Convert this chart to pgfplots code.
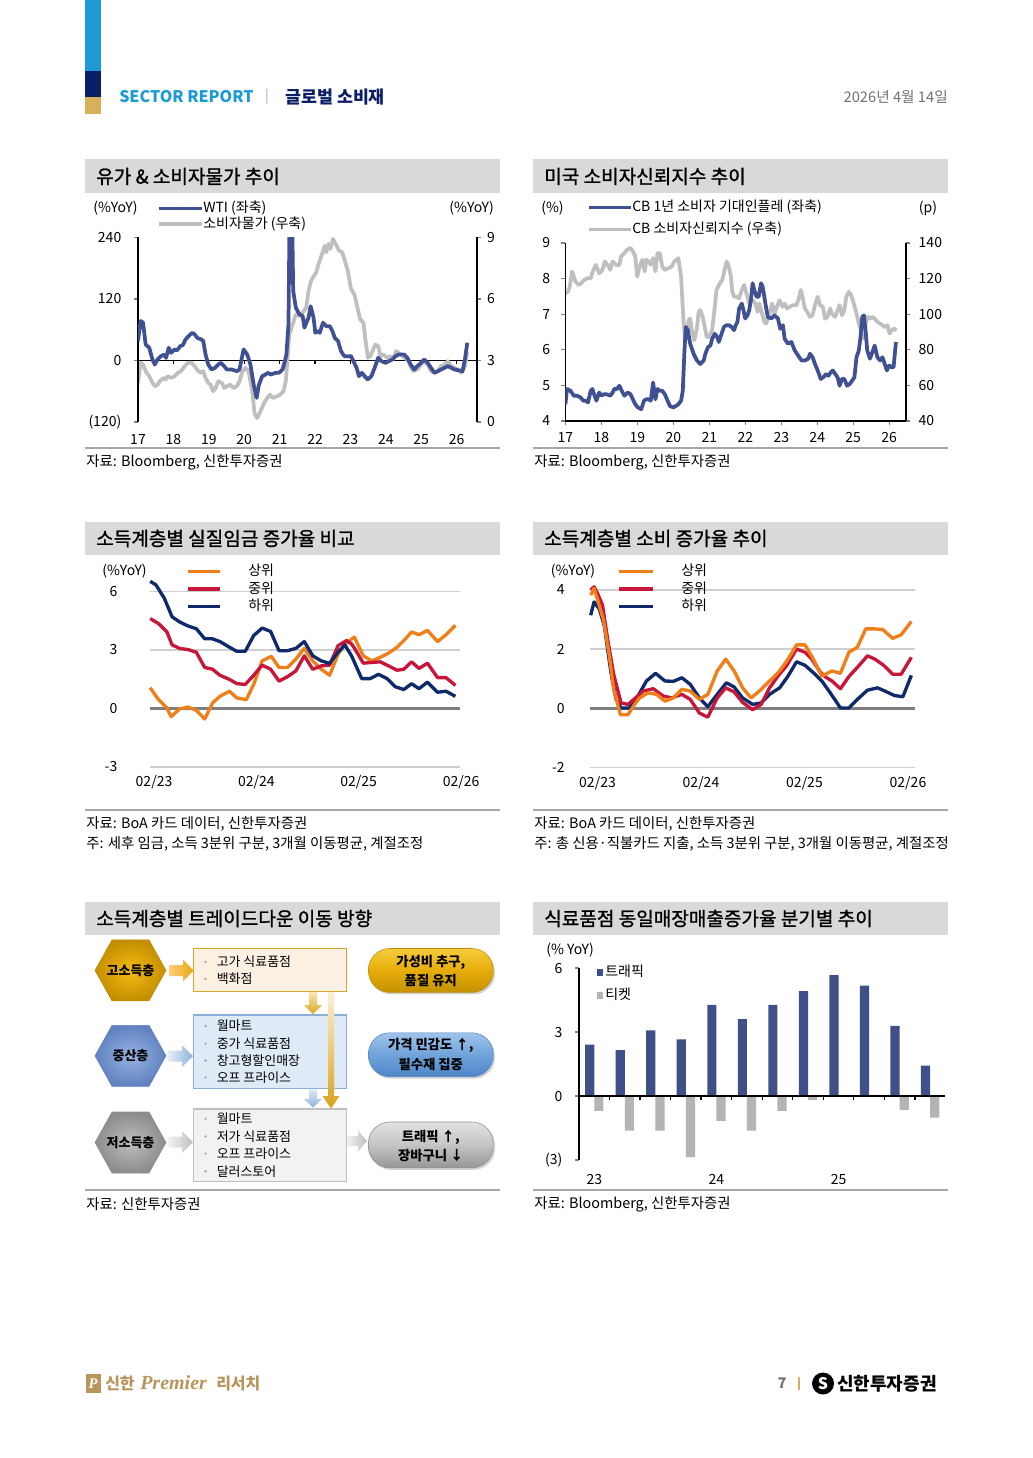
\documentclass[border=0pt]{standalone}
\usepackage{fontspec}
\setmainfont{Noto Sans CJK KR}
\newfontfamily\hdfont{Noto Sans CJK KR}[FakeBold=1.2]
\newfontfamily\premfont{Liberation Serif}
\usepackage{pgfplots}
\pgfplotsset{compat=1.18}
\usetikzlibrary{shadings}
\definecolor{hdrgray}{HTML}{D9D9D9}
\definecolor{lineg}{HTML}{A6A6A6}
\definecolor{wtiblue}{HTML}{3F5192}
\definecolor{cpigray}{HTML}{BFBFBF}
\definecolor{orng}{HTML}{F07F19}
\definecolor{redw}{HTML}{C8163A}
\definecolor{navyw}{HTML}{0F2A6B}
\definecolor{gridg}{HTML}{CFCFCF}
\definecolor{zerog}{HTML}{7F7F7F}
\definecolor{barnavy}{HTML}{3F4F87}
\definecolor{bargray}{HTML}{B4B4B4}
\definecolor{hblue}{HTML}{1C9AD6}
\definecolor{hnavy}{HTML}{0A1E66}
\definecolor{hgold}{HTML}{D6B05A}
\definecolor{ftgold}{HTML}{B8955A}
\newcommand\fs[1]{\fontsize{#1}{#1}\selectfont}
\pgfplotsset{every axis/.append style={scale only axis, anchor=south west,
  tick label style={font=\fs{10.5}}}}
\begin{document}
\begin{tikzpicture}[x=0.75pt,y=-0.75pt]
\path[use as bounding box, fill=white] (0,0) rectangle (1032,1458);
% ---------- header
\fill[hblue] (85,0) rectangle (101,71);
\fill[hnavy] (85,71) rectangle (101,97);
\fill[hgold] (85,97) rectangle (101,114);
\node[anchor=west,inner sep=0,text=hblue,font=\fs{12}\bfseries] at (119,97) {SECTOR REPORT};
\node[inner sep=0,text=lineg,font=\fs{10}] at (267,97) {|};
\node[anchor=west,inner sep=0,text=hnavy,font=\fs{13}\bfseries] at (285,97) {글로벌 소비재};
\node[anchor=east,inner sep=0,text=black!55,font=\fs{11}] at (948,97) {2026년 4월 14일};
% ---------- heading bands
\foreach \yy/\tl/\tr in {159.5/{유가 \& 소비자물가 추이}/{미국 소비자신뢰지수 추이},
  521.5/{소득계층별 실질임금 증가율 비교}/{소득계층별 소비 증가율 추이},
  901.5/{소득계층별 트레이드다운 이동 방향}/{식료품점 동일매장매출증가율 분기별 추이}}{
  \fill[hdrgray] (85,\yy) rectangle (500,\yy+33.3);
  \fill[hdrgray] (533,\yy) rectangle (948,\yy+33.3);
  \node[anchor=west,inner sep=0,font=\hdfont\fs{14.3}] at (96,\yy+17) {\tl};
  \node[anchor=west,inner sep=0,font=\hdfont\fs{14.3}] at (544,\yy+17) {\tr};
}
% bottom rules
\foreach \yy in {448,810,1190}{
  \draw[lineg,line width=0.9pt] (85,\yy) -- (500,\yy);
  \draw[lineg,line width=0.9pt] (533,\yy) -- (948,\yy);}
% sources
\begin{scope}[every node/.style={anchor=west,inner sep=0,font=\fs{10.8}}]
\node at (86,462) {자료: Bloomberg, 신한투자증권};
\node at (534,462) {자료: Bloomberg, 신한투자증권};
\node at (86,824) {자료: BoA 카드 데이터, 신한투자증권};
\node at (86,844) {주: 세후 임금, 소득 3분위 구분, 3개월 이동평균, 계절조정};
\node at (534,824) {자료: BoA 카드 데이터, 신한투자증권};
\node at (534,844) {주: 총 신용·직불카드 지출, 소득 3분위 구분, 3개월 이동평균, 계절조정};
\node at (86,1204) {자료: 신한투자증권};
\node at (534,1204) {자료: Bloomberg, 신한투자증권};
\end{scope}

% ================= Chart 1 : WTI & CPI
\begin{axis}[at={(103.5pt,-316.5pt)}, width=254.25pt, height=138.4pt,
  xmin=0, xmax=114.9, ymin=0, ymax=9,
  axis y line*=right, axis x line=none,
  ytick={0,3,6,9}, yticklabels={0,3,6,9},
  ytick align=outside, major tick length=3pt,
  y axis line style={line width=1pt}, ytick style={line width=1pt},
  yticklabel style={xshift=1pt}]
\draw[line width=1pt] (axis cs:0,3) -- (axis cs:114.9,3);
\pgfplotsinvokeforeach{12,24,36,48,60,72,84,96,108}{\draw[line width=1pt] (axis cs:#1,3) -- ++(0pt,-3pt);}
\addplot[cpigray, line width=2.8pt, line join=round, mark=none] coordinates {
(0,1.91)(0.9,2.89)(1.7,2.80)(2.6,2.48)(3.8,2.23)(4.6,1.99)(5.7,1.74)(6.6,1.82)(7.4,1.99)(8.6,2.15)(9.3,2.07)(10.1,2.23)(11.2,2.15)(12.4,2.23)(13.5,2.40)(14.6,2.48)(15.8,2.72)(16.9,2.89)(18.1,2.89)(19.2,2.72)(20.4,2.48)(21.5,2.40)(22.1,2.48)(22.9,2.15)(23.8,1.91)(24.6,1.82)(25.5,1.50)(26.3,1.66)(27.2,1.99)(28.4,1.91)(29.2,1.66)(30.1,1.74)(31.2,1.82)(32.4,1.66)(33.5,1.74)(34.4,1.99)(35.2,2.40)(36.4,2.64)(37.5,2.48)(38.7,1.50)(39.5,0.43)(40.4,0.19)(41.5,0.52)(42.7,0.92)(43.8,1.17)(44.7,1.33)(45.9,1.17)(47.0,1.25)(48.2,1.33)(49.3,1.50)(50.1,1.99)(50.7,3.13)(51.3,4.27)(52.4,4.76)(53.5,5.25)(54.7,5.17)(55.8,5.34)(57.0,5.58)(57.8,6.40)(58.5,6.81)(59.3,7.05)(60.4,7.30)(61.2,7.71)(62.4,8.20)(63.3,8.60)(63.8,8.28)(64.6,8.69)(65.2,8.44)(66.1,8.93)(67.3,8.60)(68.1,8.36)(69.2,8.28)(70.1,7.87)(71.1,7.38)(72.2,6.48)(73.3,6.24)(74.1,5.75)(75.3,5.01)(76.4,4.85)(77.0,4.11)(77.9,3.13)(78.7,3.21)(79.5,3.46)(80.4,3.78)(81.4,3.70)(82.2,3.21)(83.3,3.29)(84.4,3.13)(85.6,3.21)(86.4,3.05)(87.5,3.46)(89.0,3.29)(90.2,3.13)(91.3,3.05)(92.1,2.80)(93.2,2.48)(94.7,2.56)(95.9,2.80)(97.0,2.97)(98.2,2.80)(99.3,2.48)(100.5,2.40)(101.6,2.48)(102.7,2.72)(103.9,2.80)(105.0,2.97)(106.2,2.72)(107.3,2.64)(108.5,2.56)(109.6,2.40)(110.8,2.72)(111.6,3.38)};
\end{axis}
\begin{axis}[at={(103.5pt,-316.5pt)}, width=254.25pt, height=138.4pt,
  xmin=0, xmax=114.9, ymin=-120, ymax=240,
  axis y line*=left, axis x line*=bottom,
  x axis line style={draw=none}, xtick style={draw=none},
  xtick={0,12,...,108}, xticklabels={17,18,19,20,21,22,23,24,25,26},
  ytick={-120,0,120,240}, yticklabels={(120),0,120,240},
  ytick align=outside, major tick length=3pt,
  y axis line style={line width=1pt}, ytick style={line width=1pt},
  xticklabel style={yshift=-6pt}, yticklabel style={xshift=-6pt}]
\addplot[wtiblue, line width=2.8pt, line join=round, mark=none] coordinates {
(0,38)(0.9,77)(1.7,74)(2.6,31)(3.8,25)(4.9,2)(5.7,-8)(6.6,2)(7.8,8.5)(8.9,11.7)(9.5,5)(10.4,25)(11.2,15)(12.4,21.5)(13.2,19.6)(14.3,28)(15.2,30)(16.1,41)(17.5,49.6)(18.4,54)(19.2,51)(20.1,44)(21.5,41)(22.1,38)(22.9,11.7)(23.8,-7.8)(24.9,-17.6)(26.1,-14.4)(27.2,-7.8)(28.1,-4.6)(29.2,-11)(30.1,-17.6)(31.8,-17.6)(33.5,-20.9)(34.4,-17.6)(35.2,5.2)(35.8,21.5)(37,11.7)(38.1,-7.8)(39.2,-47)(40.2,-73)(41,-47)(42.1,-30.7)(43.2,-27.4)(44,-24)(45,-27.4)(46.7,-24)(47.8,-24)(49,-17.6)(49.8,-1.3)(50.3,11.7)(51,70)(51.4,300)(52.2,300)(52.6,135.7)(53.5,103)(54.7,90)(55.8,86.8)(56.4,64)(57.3,77)(57.8,83.5)(58.5,106)(59.5,83.5)(60.1,54)(61,57.4)(61.6,54)(62.7,73.7)(63.8,67)(65,67)(65.9,57.4)(66.7,44)(67.8,37.8)(68.8,18.3)(69.9,8.5)(71.3,8.5)(72.2,8.5)(73,-1.3)(74.1,-14.4)(74.9,-30.7)(75.9,-24)(76.8,-30.7)(77.9,-37)(79.1,-30.7)(80.2,-14.4)(81.4,5.2)(82.5,-1.3)(83.9,-4.6)(85,-1.3)(86.2,2)(87.3,8.5)(88.4,11.7)(90.2,11.7)(91.3,5.2)(92.4,-7.8)(93.6,-17.6)(94.7,-11)(95.9,-4.6)(97,2)(98.2,-4.6)(99.3,-14.4)(100.5,-24)(101.6,-20.9)(102.7,-17.6)(103.9,-14.4)(105,-11)(106.2,-14.4)(107.3,-17.6)(108.5,-19)(110,-20.9)(110.8,2)(111.6,34.6)};
\end{axis}
\begin{scope}[every node/.style={inner sep=0,font=\fs{10.5}}]
\node[anchor=west] at (93,208) {(\%YoY)};
\node[anchor=east] at (494,208) {(\%YoY)};
\draw[wtiblue,line width=2.8pt] (159,208.5) -- (202,208.5);
\node[anchor=west] at (203,208) {WTI (좌축)};
\draw[cpigray,line width=2.8pt] (159,224) -- (202,224);
\node[anchor=west] at (203,224) {소비자물가 (우축)};
\end{scope}

% ================= Chart 2 : CB
\begin{axis}[at={(424.05pt,-315.75pt)}, width=255.45pt, height=133.5pt,
  xmin=0, xmax=113.6, ymin=40, ymax=140,
  axis y line*=right, axis x line=none,
  ytick={40,60,...,140}, yticklabels={40,60,80,100,120,140},
  ytick align=outside, major tick length=3pt,
  y axis line style={line width=1pt}, ytick style={line width=1pt},
  yticklabel style={xshift=3pt}]
\addplot[cpigray, line width=2.8pt, line join=round, mark=none] coordinates {
(0,111.7)(0.79,112.6)(1.46,115.5)(2.25,124.0)(2.81,121.1)(3.37,118.3)(4.5,116.4)(5.29,117.4)(6.19,119.2)(7.31,120.2)(8.44,120.2)(9.34,124.9)(10.12,127.7)(11.25,123.0)(12.37,124.9)(13.16,129.6)(14.06,127.7)(14.96,124.9)(15.75,129.6)(16.87,127.7)(18.0,127.7)(18.56,132.5)(19.69,134.3)(20.58,136.2)(21.71,137.2)(22.5,135.3)(23.28,132.5)(23.96,121.1)(24.75,126.8)(25.65,130.6)(26.43,124.0)(27.0,130.6)(27.78,129.6)(28.46,127.7)(29.25,131.5)(30.03,124.0)(30.71,134.3)(31.5,134.3)(32.28,126.8)(33.18,124.9)(34.31,125.8)(35.43,126.8)(36.33,129.6)(37.68,131.5)(38.58,121.1)(39.37,96.6)(39.93,85.3)(40.49,86.2)(41.06,96.6)(41.62,97.5)(42.18,90.9)(42.97,85.3)(43.87,91.9)(44.43,101.3)(44.99,102.3)(45.78,98.5)(46.46,92.8)(47.13,87.2)(47.81,87.2)(48.93,90.9)(49.83,104.2)(50.39,113.6)(51.18,116.4)(52.31,119.2)(53.21,125.8)(53.77,129.6)(54.33,127.7)(55.12,122.1)(55.68,112.6)(56.24,109.8)(57.14,109.8)(57.93,108.9)(58.83,113.6)(59.62,116.4)(60.4,111.7)(61.3,106.0)(62.43,107.9)(63.33,106.0)(64.12,101.3)(64.68,106.0)(65.58,100.4)(66.37,95.7)(66.93,94.7)(68.05,100.4)(68.95,106.0)(69.74,100.4)(70.53,104.2)(71.43,107.9)(72.33,104.2)(73.12,106.0)(73.9,103.2)(74.8,104.2)(75.93,105.1)(77.05,105.1)(77.84,108.9)(78.52,113.6)(79.08,109.8)(79.87,103.2)(80.65,101.3)(81.55,98.5)(82.45,99.4)(83.24,105.1)(84.14,109.8)(84.93,105.1)(85.83,104.2)(86.61,97.5)(87.4,98.5)(88.3,103.2)(88.86,100.4)(89.99,98.5)(90.78,102.3)(91.45,105.1)(92.24,99.4)(93.03,102.3)(93.7,109.8)(94.49,112.6)(95.28,110.8)(96.18,106.0)(97.08,100.4)(97.86,94.7)(98.65,90.9)(99.55,86.2)(100.11,94.7)(100.9,98.5)(101.8,97.5)(102.36,98.5)(103.15,97.5)(104.05,95.7)(104.95,94.7)(105.74,93.8)(106.52,92.8)(107.42,93.8)(108.1,89.1)(108.77,90.9)(109.67,91.9)(110.46,90.9)};
\end{axis}
\begin{axis}[at={(424.05pt,-315.75pt)}, width=255.45pt, height=133.5pt,
  xmin=0, xmax=113.6, ymin=4, ymax=9,
  axis y line*=left, axis x line*=bottom,
  xtick={0,12,...,108}, xticklabels={17,18,19,20,21,22,23,24,25,26},
  ytick={4,5,...,9}, yticklabels={4,5,6,7,8,9},
  tick align=outside, major tick length=3pt,
  axis line style={line width=1pt}, tick style={line width=1pt},
  xticklabel style={yshift=-2pt}, yticklabel style={xshift=-5pt}]
\addplot[wtiblue, line width=2.8pt, line join=round, mark=none] coordinates {
(0,4.47)(0.56,4.90)(1.69,4.85)(2.81,4.71)(3.94,4.71)(5.06,4.66)(5.96,4.57)(6.75,4.57)(7.54,4.52)(8.44,4.85)(9.0,4.90)(9.56,4.75)(10.35,4.57)(11.25,4.80)(12.04,4.71)(12.71,4.75)(13.84,4.75)(14.96,4.71)(15.75,4.80)(16.31,4.90)(17.21,4.90)(18.0,4.99)(18.79,4.85)(19.69,4.71)(20.81,4.80)(21.71,4.75)(22.5,4.61)(23.28,4.47)(24.18,4.38)(25.31,4.33)(26.21,4.57)(27.0,4.61)(27.78,4.61)(28.46,4.57)(29.25,5.08)(30.03,4.61)(30.71,4.90)(31.5,4.85)(32.28,4.85)(33.18,4.75)(34.08,4.57)(34.87,4.42)(36.0,4.38)(36.78,4.42)(37.68,4.47)(38.58,4.57)(39.15,4.85)(39.71,5.98)(40.16,6.64)(40.83,6.55)(41.62,6.17)(42.74,5.89)(43.87,5.70)(44.99,5.60)(46.12,5.70)(46.68,5.89)(47.58,6.08)(48.37,6.12)(48.93,6.31)(49.83,6.45)(50.62,6.36)(51.18,6.22)(52.08,6.45)(52.87,6.64)(53.66,6.69)(54.56,6.69)(55.46,6.64)(56.24,6.55)(56.81,6.69)(57.37,6.78)(57.93,7.16)(58.83,7.30)(59.39,7.11)(59.96,6.88)(60.74,6.97)(61.3,7.11)(61.87,7.40)(62.43,7.87)(62.99,7.68)(63.78,7.49)(64.46,7.49)(65.24,7.87)(65.8,7.77)(66.7,7.30)(67.49,6.92)(68.62,6.88)(69.74,6.97)(70.87,6.88)(71.65,6.59)(72.55,6.69)(73.12,6.31)(74.24,6.17)(75.37,6.22)(76.49,5.98)(77.62,5.84)(78.74,5.70)(79.87,5.70)(80.99,5.75)(81.55,5.89)(82.45,5.79)(83.24,5.60)(84.36,5.37)(85.15,5.18)(86.05,5.23)(86.95,5.32)(87.74,5.27)(88.53,5.37)(89.2,5.42)(89.99,5.32)(90.78,5.23)(91.45,4.99)(92.24,5.18)(93.03,5.18)(93.93,4.99)(94.83,5.04)(95.61,5.13)(96.4,5.23)(97.08,5.79)(97.86,5.98)(98.43,6.36)(98.99,6.92)(99.55,6.97)(100.11,6.55)(100.67,5.98)(101.57,5.75)(102.36,5.93)(103.15,6.12)(104.05,5.79)(104.95,5.70)(105.74,5.79)(106.52,5.60)(107.2,5.42)(107.99,5.56)(108.77,5.51)(109.45,5.51)(110.24,6.22)};
\end{axis}
\begin{scope}[every node/.style={inner sep=0,font=\fs{10.5}}]
\node[anchor=west] at (541,208) {(\%)};
\node at (928,208) {(p)};
\draw[wtiblue,line width=2.8pt] (589,207.5) -- (631,207.5);
\node[anchor=west] at (632,207) {CB 1년 소비자 기대인플레 (좌축)};
\draw[cpigray,line width=2.8pt] (589,229.5) -- (631,229.5);
\node[anchor=west] at (632,229) {CB 소비자신뢰지수 (우축)};
\end{scope}

% ================= Chart 3 : real wages
\begin{axis}[at={(112.5pt,-575.175pt)}, width=235.2pt, height=131.6pt,
  xmin=-0.47, xmax=36.3, ymin=-3, ymax=6, clip=false,
  axis line style={draw=none}, tick style={draw=none},
  xtick={0,12,24,36}, xticklabels={02/23,02/24,02/25,02/26},
  ytick={-3,0,3,6}, yticklabels={-3,0,3,6},
  yticklabel style={xshift=-21pt}, xticklabel style={yshift=-3pt}]
\draw[gridg,line width=1.3pt] (axis cs:-0.47,6) -- (axis cs:35.9,6);
\draw[gridg,line width=1.3pt] (axis cs:-0.47,3) -- (axis cs:35.9,3);
\draw[gridg,line width=1.3pt] (axis cs:-0.47,-3) -- (axis cs:35.9,-3);
\draw[zerog,line width=2pt] (axis cs:-0.47,0) -- (axis cs:35.9,0);
\addplot[orng, line width=2.5pt, line join=round, mark=none] coordinates {
(-0.45,1.06)(0.53,0.45)(1.52,0.02)(2.0,-0.42)(2.99,-0.03)(3.98,0.07)(4.96,-0.10)(5.95,-0.54)(6.86,0.28)(7.73,0.62)(8.84,0.88)(9.71,0.54)(10.82,0.45)(11.69,1.23)(12.68,2.44)(13.75,2.67)(14.66,2.10)(15.65,2.10)(16.63,2.53)(17.62,3.08)(18.61,2.44)(19.6,2.01)(20.59,1.70)(21.58,2.79)(22.57,3.36)(23.48,3.66)(24.54,2.70)(25.53,2.44)(26.52,2.62)(27.51,2.84)(28.5,3.14)(29.29,3.48)(30.2,3.92)(31.07,3.78)(32.06,4.00)(33.25,3.43)(34.24,3.78)(35.34,4.26)};
\addplot[redw, line width=2.5pt, line join=round, mark=none] coordinates {
(-0.45,4.61)(0.53,4.35)(1.52,3.92)(2.12,3.26)(2.99,3.08)(3.98,3.02)(4.96,2.88)(5.95,2.10)(6.86,2.01)(7.73,1.70)(8.84,1.49)(9.71,1.27)(10.7,1.23)(11.69,1.70)(12.68,2.22)(13.67,2.01)(14.66,1.40)(15.65,1.63)(16.63,1.92)(17.62,2.70)(18.61,2.01)(19.6,2.18)(20.59,2.22)(21.58,3.22)(22.57,3.48)(23.16,3.31)(23.56,3.05)(24.54,2.32)(25.53,2.36)(26.52,2.39)(27.51,2.18)(28.5,1.96)(29.29,2.01)(30.2,2.39)(31.07,2.05)(32.06,2.32)(33.25,1.58)(34.24,1.58)(35.34,1.18)};
\addplot[navyw, line width=2.5pt, line join=round, mark=none] coordinates {
(-0.45,6.52)(0.22,6.34)(1.21,5.65)(2.12,4.70)(2.99,4.44)(3.98,4.23)(4.96,4.09)(5.95,3.57)(6.86,3.57)(7.73,3.43)(8.84,3.14)(9.71,2.93)(10.7,2.93)(11.69,3.74)(12.68,4.12)(13.67,3.95)(14.66,2.96)(15.65,2.96)(16.63,3.08)(17.62,3.43)(18.61,2.70)(19.6,2.44)(20.59,2.31)(21.58,2.88)(22.37,3.26)(23.16,2.70)(24.35,1.53)(25.34,1.53)(26.33,1.75)(27.32,1.53)(28.3,1.11)(29.29,0.97)(30.2,1.27)(31.07,1.01)(32.06,1.35)(33.25,0.83)(34.24,0.88)(35.34,0.62)};
\end{axis}
\begin{scope}[every node/.style={inner sep=0,font=\fs{10.5}}]
\node at (124.5,571) {(\%YoY)};
\draw[orng,line width=2.5pt] (188,571.5) -- (220,571.5);
\draw[redw,line width=2.5pt] (188,589) -- (220,589);
\draw[navyw,line width=2.5pt] (188,606.5) -- (220,606.5);
\node[anchor=west] at (248,570.5) {상위};
\node[anchor=west] at (248,588.5) {중위};
\node[anchor=west] at (248,605.5) {하위};
\end{scope}

% ================= Chart 4 : consumption
\begin{axis}[at={(442.5pt,-575.625pt)}, width=244.3pt, height=133.3pt,
  xmin=-0.87, xmax=36.9, ymin=-2, ymax=4, clip=false,
  axis line style={draw=none}, tick style={draw=none},
  xtick={0,12,24,36}, xticklabels={02/23,02/24,02/25,02/26},
  ytick={-2,0,2,4}, yticklabels={-2,0,2,4},
  yticklabel style={xshift=-15.5pt}, xticklabel style={yshift=-2.8pt}]
\draw[gridg,line width=1.3pt] (axis cs:-0.87,4) -- (axis cs:36.8,4);
\draw[gridg,line width=1.3pt] (axis cs:-0.87,2) -- (axis cs:36.8,2);
\draw[gridg,line width=1.3pt] (axis cs:-0.87,-2) -- (axis cs:36.8,-2);
\draw[zerog,line width=2pt] (axis cs:-0.87,0) -- (axis cs:36.8,0);
\addplot[navyw, line width=2.5pt, line join=round, mark=none] coordinates {
(-0.79,3.14)(-0.4,3.59)(0.19,3.36)(0.78,2.80)(1.56,1.20)(2.15,0.30)(2.73,0.01)(3.71,0.01)(4.69,0.41)(5.67,0.92)(6.73,1.18)(7.82,0.92)(8.8,0.91)(9.78,1.03)(10.75,0.81)(11.81,0.35)(12.79,0.05)(13.88,0.47)(14.94,0.86)(15.84,0.72)(16.82,0.35)(17.99,0.13)(18.97,0.18)(19.95,0.47)(21.12,0.69)(22.1,1.09)(23.08,1.57)(24.06,1.45)(25.03,1.20)(26.01,0.92)(26.99,0.52)(28.17,0.01)(29.15,0.01)(30.13,0.30)(31.3,0.61)(32.47,0.69)(33.33,0.58)(34.43,0.43)(35.41,0.39)(36.39,1.11)};
\addplot[redw, line width=2.5pt, line join=round, mark=none] coordinates {
(-0.79,3.99)(-0.4,4.10)(0,3.88)(0.58,3.48)(1.17,2.34)(1.87,1.15)(2.73,0.18)(3.52,0.13)(4.3,0.32)(5.28,0.58)(6.46,0.66)(7.63,0.41)(8.61,0.35)(9.78,0.47)(10.75,0.30)(11.81,-0.16)(12.79,-0.30)(13.88,0.35)(14.87,0.69)(15.84,0.55)(16.82,0.20)(17.99,-0.05)(18.97,0.13)(19.95,0.69)(20.93,1.09)(21.91,1.43)(23.08,2.00)(24.06,1.89)(24.84,1.66)(25.82,1.23)(26.41,1.06)(27.19,0.92)(28.17,0.66)(29.15,1.07)(30.13,1.38)(31.3,1.77)(32.16,1.66)(33.18,1.45)(34.23,1.15)(35.21,1.15)(36.39,1.72)};
\addplot[orng, line width=2.5pt, line join=round, mark=none] coordinates {
(-0.79,3.82)(-0.4,4.05)(0.19,3.48)(0.7,2.97)(1.37,1.77)(1.87,0.64)(2.66,-0.22)(3.52,-0.22)(4.3,0.13)(4.89,0.35)(5.86,0.52)(6.84,0.47)(7.82,0.24)(8.8,0.35)(9.78,0.64)(10.75,0.58)(11.81,0.30)(12.79,0.47)(13.88,1.26)(14.87,1.66)(15.84,1.26)(16.82,0.69)(17.8,0.35)(18.77,0.58)(19.56,0.81)(20.34,1.03)(21.12,1.26)(22.1,1.66)(23.08,2.14)(24.06,2.14)(25.03,1.66)(26.01,1.09)(27.19,1.26)(28.17,1.18)(29.15,1.89)(30.13,2.06)(31.1,2.68)(32.08,2.68)(33.06,2.66)(34.23,2.36)(35.21,2.48)(36.39,2.93)};
\end{axis}
\begin{scope}[every node/.style={inner sep=0,font=\fs{10.5}}]
\node at (573,571) {(\%YoY)};
\draw[orng,line width=2.5pt] (619,571.5) -- (653,571.5);
\draw[redw,line width=2.5pt] (619,589) -- (653,589);
\draw[navyw,line width=2.5pt] (619,606.5) -- (653,606.5);
\node[anchor=west] at (681,570.5) {상위};
\node[anchor=west] at (681,588.5) {중위};
\node[anchor=west] at (681,605.5) {하위};
\end{scope}

% ================= Chart 6 : bars
\begin{axis}[at={(434.25pt,-870pt)}, width=274.8pt, height=144pt,
  xmin=-0.5, xmax=11.5, ymin=-3, ymax=6,
  axis y line*=left, axis x line*=bottom,
  x axis line style={draw=none}, xtick style={draw=none},
  xtick={0,4,8}, xticklabels={23,24,25},
  ytick={-3,0,3,6}, yticklabels={(3),0,3,6},
  ytick align=outside, major tick length=3pt,
  y axis line style={line width=1pt}, ytick style={line width=1pt},
  xticklabel style={yshift=-4.5pt}, yticklabel style={xshift=-6pt},
  ybar, bar width=0.3]
\addplot[fill=barnavy, draw=none, bar shift=-0.15] coordinates {
(0,2.41)(1,2.15)(2,3.08)(3,2.65)(4,4.27)(5,3.61)(6,4.27)(7,4.92)(8,5.67)(9,5.17)(10,3.29)(11,1.42)};
\addplot[fill=bargray, draw=none, bar shift=0.15] coordinates {
(0,-0.70)(1,-1.62)(2,-1.62)(3,-2.87)(4,-1.17)(5,-1.62)(6,-0.70)(7,-0.19)(8,0)(9,0.05)(10,-0.65)(11,-1.01)};
\draw[line width=1pt] (axis cs:-0.5,0) -- (axis cs:11.5,0);
\pgfplotsinvokeforeach{0.5,1.5,2.5,3.5,4.5,5.5,6.5,7.5,8.5,9.5,10.5}{\draw[line width=1pt] (axis cs:#1,0) -- ++(0pt,-3pt);}
\end{axis}
\begin{scope}[every node/.style={inner sep=0,font=\fs{10.5}}]
\node at (570,950) {(\% YoY)};
\fill[barnavy] (596.5,969) rectangle (603,976);
\node[anchor=west] at (605,971.5) {트래픽};
\fill[bargray] (596.5,991.5) rectangle (603,998.5);
\node[anchor=west] at (605,994) {티켓};
\end{scope}

% ================= Diagram
\begin{scope}
\shade[left color=white!80!yellow!60!orange, right color={rgb,255:red,228;green,170;blue,16}]
  (169,965)--(183,965)--(183,959.5)--(193.5,970.5)--(183,981.5)--(183,976)--(169,976)--cycle;
\shade[left color={rgb,255:red,232;green,240;blue,249}, right color={rgb,255:red,143;green,177;blue,221}]
  (167,1050.5)--(182,1050.5)--(182,1045)--(193,1056)--(182,1067)--(182,1061.5)--(167,1061.5)--cycle;
\shade[left color={rgb,255:red,245;green,245;blue,245}, right color={rgb,255:red,190;green,190;blue,190}]
  (167,1136.5)--(182,1136.5)--(182,1131)--(193,1142)--(182,1153)--(182,1147.5)--(167,1147.5)--cycle;
\shade[left color={rgb,255:red,240;green,240;blue,240}, right color={rgb,255:red,192;green,192;blue,192}]
  (347,1136)--(358,1136)--(358,1130.5)--(367,1141)--(358,1151.5)--(358,1146)--(347,1146)--cycle;
\draw[line width=1.1pt, draw={rgb,255:red,217;green,165;blue,43}, fill={rgb,255:red,252;green,240;blue,226}] (193.6,948.5) rectangle (346.5,991.7);
\draw[line width=1.1pt, draw={rgb,255:red,138;green,175;blue,216}, fill={rgb,255:red,222;green,234;blue,246}] (193.6,1015) rectangle (346.5,1088.5);
\draw[line width=1.1pt, draw={rgb,255:red,191;green,191;blue,191}, fill={rgb,255:red,242;green,242;blue,242}] (193.6,1108.8) rectangle (346.5,1181.3);
\shade[top color={rgb,255:red,248;green,230;blue,180}, bottom color={rgb,255:red,224;green,168;blue,32}]
  (309,992)--(317,992)--(317,1005)--(322,1005)--(313,1014)--(304,1005)--(309,1005)--cycle;
\shade[top color={rgb,255:red,220;green,232;blue,245}, bottom color={rgb,255:red,141;green,179;blue,221}]
  (309,1089.5)--(317,1089.5)--(317,1099)--(322,1099)--(313,1107.5)--(304,1099)--(309,1099)--cycle;
\shade[top color={rgb,255:red,251;green,240;blue,216}, bottom color={rgb,255:red,217;green,162;blue,26}]
  (328,992)--(334,992)--(334,1096)--(339.5,1096)--(331,1108.5)--(322.5,1096)--(328,1096)--cycle;
\shade[inner color={rgb,255:red,245;green,188;blue,20}, outer color={rgb,255:red,196;green,142;blue,0}, draw={rgb,255:red,190;green,140;blue,10}]
  (95,970.4)--(112,939.9)--(149,939.9)--(166,970.4)--(149,1000.9)--(112,1000.9)--cycle;
\shade[inner color={rgb,255:red,150;green,178;blue,225}, outer color={rgb,255:red,96;green,130;blue,192}, draw={rgb,255:red,96;green,130;blue,192}]
  (95,1055.8)--(112,1025.3)--(149,1025.3)--(166,1055.8)--(149,1086.3)--(112,1086.3)--cycle;
\shade[inner color={rgb,255:red,190;green,190;blue,190}, outer color={rgb,255:red,140;green,140;blue,140}, draw={rgb,255:red,140;green,140;blue,140}]
  (95,1142.5)--(112,1112)--(149,1112)--(166,1142.5)--(149,1173)--(112,1173)--cycle;
\node[inner sep=0,font=\fs{9.75}\bfseries] at (130.5,970.4) {고소득층};
\node[inner sep=0,font=\fs{9.75}\bfseries] at (130.5,1055.8) {중산층};
\node[inner sep=0,font=\fs{9.75}\bfseries] at (130.5,1142.5) {저소득층};
\fill[black!18, rounded corners=16pt] (370,950.5) rectangle (495,994.4);
\shade[top color={rgb,255:red,246;green,204;blue,60}, bottom color={rgb,255:red,196;green,146;blue,0}, middle color={rgb,255:red,230;green,172;blue,10}, draw={rgb,255:red,190;green,140;blue,10}, rounded corners=16pt] (368.4,948.5) rectangle (493.2,992.4);
\fill[black!18, rounded corners=16pt] (370,1034.8) rectangle (495,1078.7);
\shade[top color={rgb,255:red,160;green,196;blue,236}, bottom color={rgb,255:red,78;green,134;blue,200}, middle color={rgb,255:red,111;green,163;blue,218}, draw={rgb,255:red,80;green,130;blue,195}, rounded corners=16pt] (368.4,1032.8) rectangle (493.2,1076.7);
\fill[black!18, rounded corners=16pt] (370,1124) rectangle (495,1169.8);
\shade[top color={rgb,255:red,226;green,226;blue,226}, bottom color={rgb,255:red,150;green,150;blue,150}, middle color={rgb,255:red,196;green,196;blue,196}, draw={rgb,255:red,140;green,140;blue,140}, rounded corners=16pt] (368.4,1122) rectangle (493.2,1167.8);
\begin{scope}[every node/.style={inner sep=0,font=\fs{10}\bfseries}]
\node at (430.8,962) {가성비 추구,};
\node at (430.8,980.5) {품질 유지};
\node at (430.8,1045.3) {가격 민감도 ↑,};
\node at (430.8,1064.2) {필수재 집중};
\node at (430.8,1137.4) {트래픽 ↑,};
\node at (430.8,1156) {장바구니 ↓};
\end{scope}
\begin{scope}[every node/.style={inner sep=0,anchor=west,font=\fs{9.7}}]
\foreach \yy/\tt in {962/고가 식료품점,979/백화점,
  1026/월마트,1043.6/중가 식료품점,1060.5/창고형할인매장,1077.4/오프 프라이스,
  1118.9/월마트,1136.4/저가 식료품점,1153.6/오프 프라이스,1171.2/달러스토어}{
  \node at (216.5,\yy) {\tt};
  \fill[black!35] (205.5,\yy) circle (1.3);
}
\end{scope}
\end{scope}

% ================= Footer
\fill[ftgold] (85.5,1374) rectangle (100.5,1393);
\node[inner sep=0,text=white,font=\premfont\bfseries\itshape\fs{11}] at (93,1383.5) {P};
\node[anchor=west,inner sep=0,text=ftgold,font=\fs{12}\bfseries] at (105,1383.5) {신한};
\node[anchor=west,inner sep=0,text=ftgold,font=\premfont\bfseries\itshape\fs{15}] at (140,1383) {Premier};
\node[anchor=west,inner sep=0,text=ftgold,font=\fs{12}\bfseries] at (216,1383.5) {리서치};
\node[inner sep=0,text=black!55,font=\fs{11}\bfseries] at (782,1383.5) {7};
\fill[hgold] (798,1377) rectangle (800,1390);
\fill[black] (823,1383.5) circle (11);
\node[inner sep=0,text=white,font=\fs{12}\bfseries] at (823,1383.5) {S};
\node[anchor=west,inner sep=0,font=\fs{13.5}\bfseries] at (837,1383.5) {신한투자증권};
\end{tikzpicture}
\end{document}
